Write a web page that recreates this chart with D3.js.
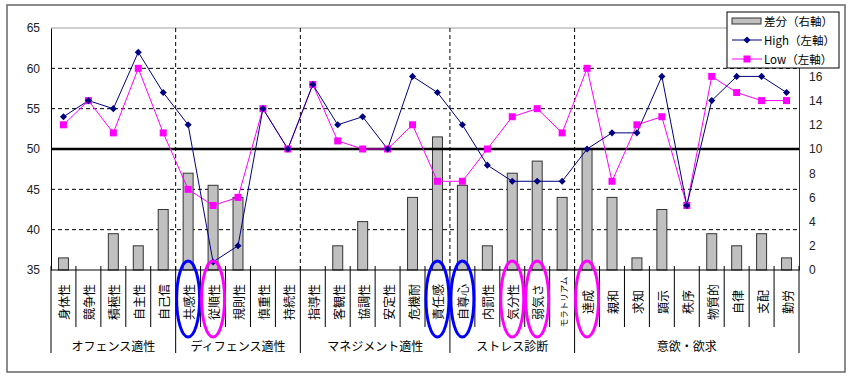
<!DOCTYPE html>
<html><head><meta charset="utf-8">
<script src="https://cdn.jsdelivr.net/npm/d3@7"></script>
<style>
html,body{margin:0;padding:0;background:#fff;}
svg{display:block;}
text{font-family:"Liberation Sans",Arial,sans-serif;}
.jp{font-family:"Noto Sans CJK JP","Noto Sans CJK SC",sans-serif;}
</style></head>
<body>
<svg id="c" width="853" height="380"></svg>
<script>
const categories = ["身体性","競争性","積極性","自主性","自己信",
  "共感性","従順性","規則性","慎重性","持続性",
  "指導性","客観性","協調性","安定性","危機耐","責任感",
  "自尊心","内罰性","気分性","弱気さ","モラトリアム",
  "達成","親和","求知","顕示","秩序","物質的","自律","支配","勤労"];
const groups = [
  {name:"オフェンス適性", start:0, end:5},
  {name:"ディフェンス適性", start:5, end:10},
  {name:"マネジメント適性", start:10, end:16},
  {name:"ストレス診断", start:16, end:21},
  {name:"意欲・欲求", start:21, end:30}];
const high = [54,56,55,62,57, 53,36,38,55,50, 58,53,54,50,59,57, 53,48,46,46,46, 50,52,52,59,43,56,59,59,57];
const low  = [53,56,52,60,52, 45,43,44,55,50, 58,51,50,50,53,46, 46,50,54,55,52, 60,46,53,54,43,59,57,56,56];
const diff = [1,0,3,2,5, 8,7,6,0,0, 0,2,4,0,6,11, 7,2,8,9,6, 10,6,1,5,0,3,2,3,1];
const leftTicks = [35,40,45,50,55,60,65];
const rightTicks = [0,2,4,6,8,10,12,14,16]; // 18 and 20 are hidden behind the legend in the reference
const circledBlue = ["共感性","責任感","自尊心"];
const circledMagenta = ["従順性","気分性","弱気さ","達成"];
const legendItems = ["差分（右軸）","High（左軸）","Low（左軸）"];

const svg = d3.select("#c");
const L=51, R=799, T=28, B=270;
const x = d3.scaleBand().domain(categories).range([L,R]).padding(0);
const yL = d3.scaleLinear().domain([35,65]).range([B,T]);
const yR = d3.scaleLinear().domain([0,20]).range([B,T]);
const cx = c => x(c)+x.bandwidth()/2;

// outer frame
svg.append("rect").attr("x",7).attr("y",5).attr("width",838).attr("height",367)
  .attr("fill","#fff").attr("stroke","#666").attr("stroke-width",1.5);

// plot top border
svg.append("line").attr("x1",L).attr("x2",R).attr("y1",T).attr("y2",T)
  .attr("stroke","#a0a0a0").attr("stroke-width",1);

// horizontal dashed gridlines
svg.append("g").selectAll("line").data(leftTicks.filter(v=>v!==35&&v!==50&&v!==65)).join("line")
  .attr("x1",L).attr("x2",R).attr("y1",d=>yL(d)).attr("y2",d=>yL(d))
  .attr("stroke","#000").attr("stroke-width",1).attr("stroke-dasharray","4,3");

// vertical dashed group gridlines
svg.append("g").selectAll("line").data(groups.slice(1)).join("line")
  .attr("x1",d=>x(categories[d.start])).attr("x2",d=>x(categories[d.start]))
  .attr("y1",T).attr("y2",B)
  .attr("stroke","#000").attr("stroke-width",1).attr("stroke-dasharray","4,3");

// bars
const bw = x.bandwidth()*0.4;
svg.append("g").selectAll("rect").data(categories.map((c,i)=>({c,v:diff[i]})).filter(d=>d.v>0)).join("rect")
  .attr("x",d=>cx(d.c)-bw/2).attr("width",bw)
  .attr("y",d=>yR(d.v)).attr("height",d=>yR(0)-yR(d.v))
  .attr("fill","#c0c0c0").attr("stroke","#333").attr("stroke-width",1);

// 50 line
svg.append("line").attr("x1",L).attr("x2",R).attr("y1",yL(50)).attr("y2",yL(50))
  .attr("stroke","#000").attr("stroke-width",2.5);

// axes
const axL = svg.append("g").attr("transform",`translate(${L},0)`)
  .call(d3.axisLeft(yL).tickValues(leftTicks).tickSize(0).tickPadding(11));
axL.select(".domain").attr("stroke","#000");
axL.selectAll("text").attr("font-size",12).attr("fill","#222").attr("font-family","Liberation Sans, Arial, sans-serif");
const axR = svg.append("g").attr("transform",`translate(${R},0)`)
  .call(d3.axisRight(yR).tickValues(rightTicks).tickSize(0).tickPadding(10));
axR.select(".domain").attr("stroke","#333");
axR.selectAll("text").attr("font-size",12).attr("fill","#222").attr("font-family","Liberation Sans, Arial, sans-serif");

// x axis line
svg.append("line").attr("x1",L).attr("x2",R).attr("y1",B).attr("y2",B).attr("stroke","#000");

// category separators
const bounds = d3.range(0,categories.length+1).map(i=> i<categories.length ? x(categories[i]) : R);
const groupIdx = new Set(groups.map(g=>g.start).concat([categories.length]));
svg.append("g").selectAll("line").data(bounds.map((b,i)=>({b,i}))).join("line")
  .attr("x1",d=>d.b).attr("x2",d=>d.b)
  .attr("y1",266).attr("y2",d=>groupIdx.has(d.i)?353:327)
  .attr("stroke","#000").attr("stroke-width",1);

// category labels (rotated)
svg.append("g").selectAll("text").data(categories).join("text")
  .attr("class","jp")
  .attr("transform",d=>`translate(${cx(d)+0.5},302) rotate(-90)`)
  .attr("text-anchor","middle").attr("dominant-baseline","central")
  .attr("font-size",d=>d.length>4?8.5:12).attr("fill","#000")
  .text(d=>d);

// group labels
svg.append("g").selectAll("text").data(groups).join("text")
  .attr("class","jp")
  .attr("x",d=>(bounds[d.start]+bounds[d.end])/2).attr("y",345)
  .attr("text-anchor","middle").attr("dominant-baseline","central")
  .attr("font-size",12).attr("fill","#000").text(d=>d.name);

// lines
const lineL = d3.line().x((d,i)=>cx(categories[i])).y(d=>yL(d));
svg.append("path").datum(low).attr("d",lineL).attr("fill","none").attr("stroke","#ff00ff").attr("stroke-width",1);
svg.append("path").datum(high).attr("d",lineL).attr("fill","none").attr("stroke","#000080").attr("stroke-width",1);
svg.append("g").selectAll("rect").data(low).join("rect")
  .attr("x",(d,i)=>cx(categories[i])-3.5).attr("y",d=>yL(d)-3.5)
  .attr("width",7).attr("height",7).attr("fill","#ff00ff");
const diamond = d3.symbol().type(d3.symbolDiamond2).size(32);
svg.append("g").selectAll("path").data(high).join("path")
  .attr("d",diamond).attr("transform",(d,i)=>`translate(${cx(categories[i])},${yL(d)})`)
  .attr("fill","#000080");

// annotation ellipses
const ell = svg.append("g").attr("fill","none").attr("stroke-width",3);
ell.selectAll(".b").data(circledBlue).join("ellipse").attr("class","b")
  .attr("cx",d=>cx(d)).attr("cy",299).attr("rx",11.5).attr("ry",38).attr("stroke","#0000ff");
ell.selectAll(".m").data(circledMagenta).join("ellipse").attr("class","m")
  .attr("cx",d=>cx(d)).attr("cy",299).attr("rx",11.5).attr("ry",38).attr("stroke","#ff00ff");

// legend
const lg = svg.append("g");
lg.append("rect").attr("x",727).attr("y",12).attr("width",112).attr("height",56)
  .attr("fill","#fff").attr("stroke","#000").attr("stroke-width",1);
const rows = [21,40,59];
lg.append("rect").attr("x",732).attr("y",18).attr("width",29).attr("height",6)
  .attr("fill","#c0c0c0").attr("stroke","#333");
lg.append("line").attr("x1",732).attr("x2",762).attr("y1",rows[1]).attr("y2",rows[1]).attr("stroke","#000080");
lg.append("path").attr("d",diamond).attr("transform",`translate(747,${rows[1]})`).attr("fill","#000080");
lg.append("line").attr("x1",732).attr("x2",762).attr("y1",rows[2]).attr("y2",rows[2]).attr("stroke","#ff00ff");
lg.append("rect").attr("x",743.5).attr("y",rows[2]-3.5).attr("width",7).attr("height",7).attr("fill","#ff00ff");
lg.selectAll("text").data(legendItems).join("text").attr("class","jp")
  .attr("x",764).attr("y",(d,i)=>rows[i]).attr("dominant-baseline","central")
  .attr("font-size",11.5).attr("fill","#000").text(d=>d);
</script>
</body></html>
